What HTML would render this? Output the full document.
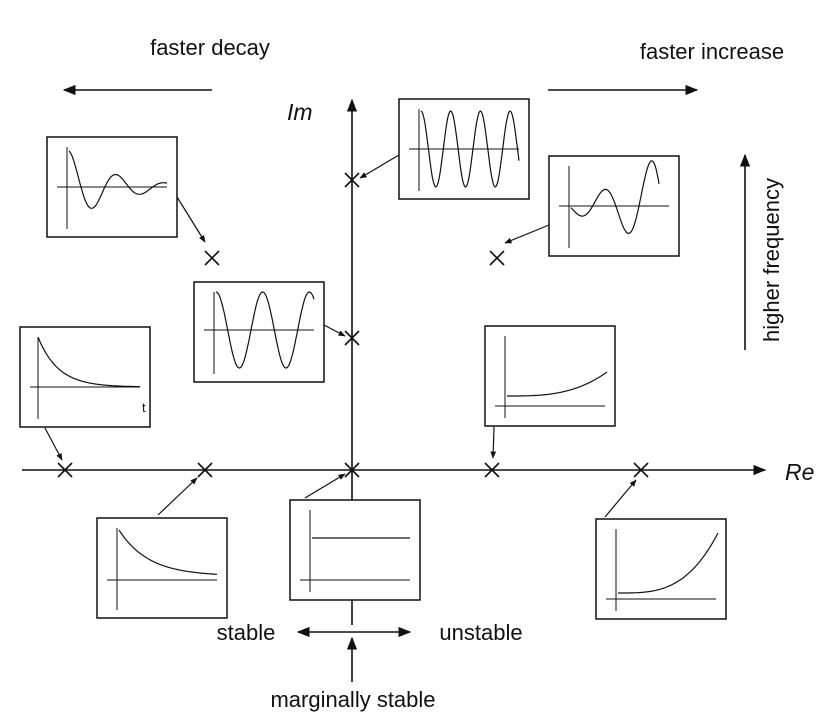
<!DOCTYPE html>
<html><head><meta charset="utf-8">
<style>
body{margin:0;background:#fff;}
svg{display:block;font-family:"Liberation Sans",sans-serif;}
text{fill:#111;}
</style></head>
<body>
<svg id="s" width="839" height="722" viewBox="0 0 839 722">
<defs>
<marker id="ah" viewBox="0 0 10 10" refX="9" refY="5" markerWidth="8" markerHeight="8" orient="auto-start-reverse"><path d="M0,1 L10,5 L0,9 z" fill="#111"/></marker>
<marker id="sa" viewBox="0 0 10 10" refX="9" refY="5" markerWidth="6" markerHeight="6" orient="auto"><path d="M0,1 L10,5 L0,9 z" fill="#111"/></marker>
</defs>
<g stroke="#111" stroke-width="1.6" fill="none">
<line x1="22" y1="470" x2="765" y2="470" marker-end="url(#ah)"/>
<line x1="352" y1="500" x2="352" y2="100" marker-end="url(#ah)"/>
<line x1="352" y1="600" x2="352" y2="625"/>
<line x1="212" y1="90" x2="64" y2="90" marker-end="url(#ah)"/>
<line x1="548" y1="90" x2="697" y2="90" marker-end="url(#ah)"/>
<line x1="745" y1="350" x2="745" y2="155" marker-end="url(#ah)"/>
<line x1="298" y1="632" x2="410" y2="632" marker-start="url(#ah)" marker-end="url(#ah)"/>
<line x1="352" y1="682" x2="352" y2="638" marker-end="url(#ah)"/>
</g>
<text x="785" y="480" font-size="23" font-style="italic">Re</text>
<text x="287" y="120" font-size="23" font-style="italic">Im</text>
<text x="210" y="55" font-size="22" text-anchor="middle">faster decay</text>
<text x="712" y="59" font-size="22" text-anchor="middle">faster increase</text>
<text transform="translate(779,260) rotate(-90)" font-size="22" text-anchor="middle">higher frequency</text>
<text x="246" y="640" font-size="22" text-anchor="middle">stable</text>
<text x="481" y="640" font-size="22" text-anchor="middle">unstable</text>
<text x="353" y="707" font-size="22" text-anchor="middle">marginally stable</text>
<g id="dyn"></g>
</svg>
<script>
const NS="http://www.w3.org/2000/svg";
const g=document.getElementById('dyn');
function mk(tag,attrs){const e=document.createElementNS(NS,tag);for(const k in attrs)e.setAttribute(k,attrs[k]);g.appendChild(e);return e;}
const crosses=[[352,180],[352,338],[212,258],[497,258],[65,470],[205,470],[352,470],[492,470],[641,470]];
crosses.forEach(c=>{
  const p=mk('path',{d:`M${c[0]-7},${c[1]-7}L${c[0]+7},${c[1]+7}M${c[0]+7},${c[1]-7}L${c[0]-7},${c[1]+7}`,stroke:'#111','stroke-width':1.6,fill:'none'});
  
  
});
// boxes: x,y, axis x offset, axis y offset, curve fn (t in 0..1 -> y offset), curve start/end offsets
const boxes=[
 [47,137,20,50,t=>-36*Math.exp(-2.2*t)*Math.cos(2*Math.PI*2.05*t),22,120],
 [194,282,20,48,t=>-38*Math.cos(2*Math.PI*2.1*t),22,120],
 [399,99,20,50,t=>-38*Math.cos(2*Math.PI*3.3*t),22,120],
 [549,156,20,50,t=>8*Math.exp(1.9*t)*Math.sin(2*Math.PI*1.9*t+0.2)*-1*-1*(t<0.05?1:1),22,110],
 [20,327,18,60,t=>-50*Math.exp(-5*t)+0,18,120],
 [485,326,20,80,t=>-10-20*Math.pow(t,3)*1.2,22,122],
 [97,518,20,62,t=>-46*Math.exp(-3.3*t)-4,22,120],
 [290,500,20,80,t=>-42,22,120],
 [596,519,20,80,t=>-6-60*Math.pow(t,3.2),22,122]
];
boxes.forEach((b,i)=>{
  const [x,y,ax,ay,f,s,e]=b;
  const r=mk('rect',{x:x,y:y,width:130,height:100,fill:'#fff',stroke:'#111','stroke-width':1.5});
  
  
  const a=mk('path',{d:`M${x+ax},${y+10}V${y+92}M${x+10},${y+ay}H${x+120}`,stroke:'#111','stroke-width':1,fill:'none'});
  
  
  let d='';
  for(let k=0;k<=120;k++){const t=k/120;const px=x+s+(e-s)*t;let py=y+ay+f(t);d+=(k?'L':'M')+px.toFixed(1)+','+py.toFixed(1);}
  const c=mk('path',{d:d,stroke:'#111','stroke-width':1.2,fill:'none'});
  
  
});
const tl=mk('text',{x:142,y:412,'font-size':13});tl.textContent='t';


const links=[[177,197,205,242],[399,155,360,178],[549,225,505,243],[324,325,345,336],[45,428,62,460],[494,427,493,458],[158,515,197,478],[305,498,345,474],[605,517,636,480]];
links.forEach(l=>{
  const ln=mk('line',{x1:l[0],y1:l[1],x2:l[2],y2:l[3],stroke:'#111','stroke-width':1.2,'marker-end':'url(#sa)'});
  
  
});
</script>
</body></html>
